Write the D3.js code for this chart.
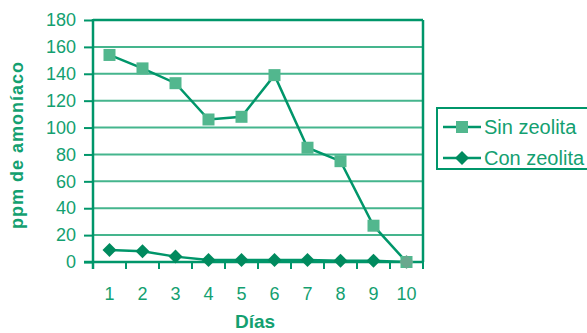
<!DOCTYPE html>
<html>
<head>
<meta charset="utf-8">
<script src="https://cdn.jsdelivr.net/npm/d3@7"></script>
<style>
  html, body { margin: 0; padding: 0; background: #fff; }
  svg { display: block; font-family: "Liberation Sans", Arial, sans-serif; }
</style>
</head>
<body>
<svg id="chart" width="587" height="333"></svg>
<script>
// Ammonia concentration per day, with and without zeolite
const days = ["1", "2", "3", "4", "5", "6", "7", "8", "9", "10"];
const sinZeolita = [154, 144, 133, 106, 108, 139, 85, 75, 27, 0];
const conZeolita = [9, 8, 4, 1.5, 1.5, 1.5, 1.5, 1, 1, 0];
const yTicks = [0, 20, 40, 60, 80, 100, 120, 140, 160, 180];
const seriesNames = ["Sin zeolita", "Con zeolita"];

const green = "#00966a";
const gridGreen = "#45b58d";
const squareFill = "#52b78e";
const textGreen = "#13a070";
const diamondFill = "#008a5e";

const svg = d3.select("#chart");
const m = { left: 93, right: 423, top: 20, bottom: 262 };

const x = d3.scaleBand().domain(days).range([m.left, m.right]);
const y = d3.scaleLinear().domain([0, 180]).range([m.bottom, m.top]);

// horizontal gridlines
svg.append("g").selectAll("line").data(yTicks.filter(d => d > 0)).join("line")
  .attr("x1", m.left).attr("x2", m.right)
  .attr("y1", d => y(d)).attr("y2", d => y(d))
  .attr("stroke", d => d === 180 ? green : gridGreen)
  .attr("stroke-width", d => d === 180 ? 2.5 : 2);

// right border
svg.append("line")
  .attr("x1", m.right).attr("x2", m.right)
  .attr("y1", m.top).attr("y2", m.bottom)
  .attr("stroke", green).attr("stroke-width", 2.5);

// y axis
const yAxis = svg.append("g").attr("transform", `translate(${m.left},0)`)
  .call(d3.axisLeft(y).tickValues(yTicks).tickSize(9).tickPadding(8).tickSizeOuter(0));
yAxis.select(".domain").remove();
yAxis.selectAll(".tick line").attr("stroke", green).attr("stroke-width", 2);
yAxis.selectAll(".tick text")
  .attr("fill", textGreen).attr("font-size", 18)
  .attr("font-family", "Liberation Sans, Arial, sans-serif");
svg.append("line")
  .attr("x1", m.left).attr("x2", m.left)
  .attr("y1", m.top - 1).attr("y2", m.bottom + 7)
  .attr("stroke", green).attr("stroke-width", 2.5);

// x axis: ticks at band boundaries, labels centred in bands
svg.append("line")
  .attr("x1", m.left - 9).attr("x2", m.right)
  .attr("y1", m.bottom).attr("y2", m.bottom)
  .attr("stroke", green).attr("stroke-width", 2.5);
const bounds = days.slice(1).map(d => x(d)).concat([m.right]);
svg.append("g").selectAll("line").data(bounds).join("line")
  .attr("x1", d => d).attr("x2", d => d)
  .attr("y1", m.bottom).attr("y2", m.bottom + 7)
  .attr("stroke", green).attr("stroke-width", 2);
svg.append("g").selectAll("text").data(days).join("text")
  .attr("x", d => x(d) + x.bandwidth() / 2)
  .attr("y", 300)
  .attr("text-anchor", "middle")
  .attr("fill", textGreen).attr("font-size", 18)
  .text(d => d);

// axis titles
svg.append("text")
  .attr("transform", "translate(23,145) rotate(-90)")
  .attr("text-anchor", "middle")
  .attr("fill", textGreen).attr("font-size", 18).attr("font-weight", "bold")
  .attr("letter-spacing", 1)
  .text("ppm de amoníaco");
svg.append("text")
  .attr("x", 255).attr("y", 328)
  .attr("text-anchor", "middle")
  .attr("fill", textGreen).attr("font-size", 19).attr("font-weight", "bold")
  .text("Días");

const cx = (d, i) => x(days[i]) + x.bandwidth() / 2;
const line = d3.line().x(cx).y(d => y(d));

// Sin zeolita series
svg.append("path").datum(sinZeolita)
  .attr("d", line).attr("fill", "none")
  .attr("stroke", green).attr("stroke-width", 2.5);
// Con zeolita series
svg.append("path").datum(conZeolita)
  .attr("d", line).attr("fill", "none")
  .attr("stroke", green).attr("stroke-width", 2.5);

const sq = 12;
svg.append("g").selectAll("rect").data(sinZeolita).join("rect")
  .attr("x", (d, i) => cx(d, i) - sq / 2)
  .attr("y", d => y(d) - sq / 2)
  .attr("width", sq).attr("height", sq)
  .attr("fill", squareFill);

// diamond marker: a square turned 45°
const dia = r => `M0,${-r}L${r},0L0,${r}L${-r},0Z`;
svg.append("g").selectAll("path").data(conZeolita).join("path")
  .attr("transform", (d, i) => `translate(${cx(d, i)},${y(d)})`)
  .attr("d", dia(7))
  .attr("fill", (d, i) => i === days.length - 1 ? "#6aa88e" : diamondFill);

// legend
const lg = svg.append("g");
lg.append("rect")
  .attr("x", 437).attr("y", 108).attr("width", 160).attr("height", 61)
  .attr("fill", "none").attr("stroke", green).attr("stroke-width", 2);
const legendRows = [
  { name: seriesNames[0], yy: 127, kind: "square" },
  { name: seriesNames[1], yy: 158, kind: "diamond" }
];
legendRows.forEach(r => {
  lg.append("line")
    .attr("x1", 443).attr("x2", 481).attr("y1", r.yy).attr("y2", r.yy)
    .attr("stroke", green).attr("stroke-width", 2.5);
  if (r.kind === "square") {
    lg.append("rect").attr("x", 456).attr("y", r.yy - 6)
      .attr("width", 12).attr("height", 12).attr("fill", squareFill);
  } else {
    lg.append("path").attr("transform", `translate(462,${r.yy})`)
      .attr("d", dia(7)).attr("fill", diamondFill);
  }
  lg.append("text")
    .attr("x", 484).attr("y", r.yy + 7)
    .attr("fill", textGreen).attr("font-size", 20)
    .text(r.name);
});
</script>
</body>
</html>
